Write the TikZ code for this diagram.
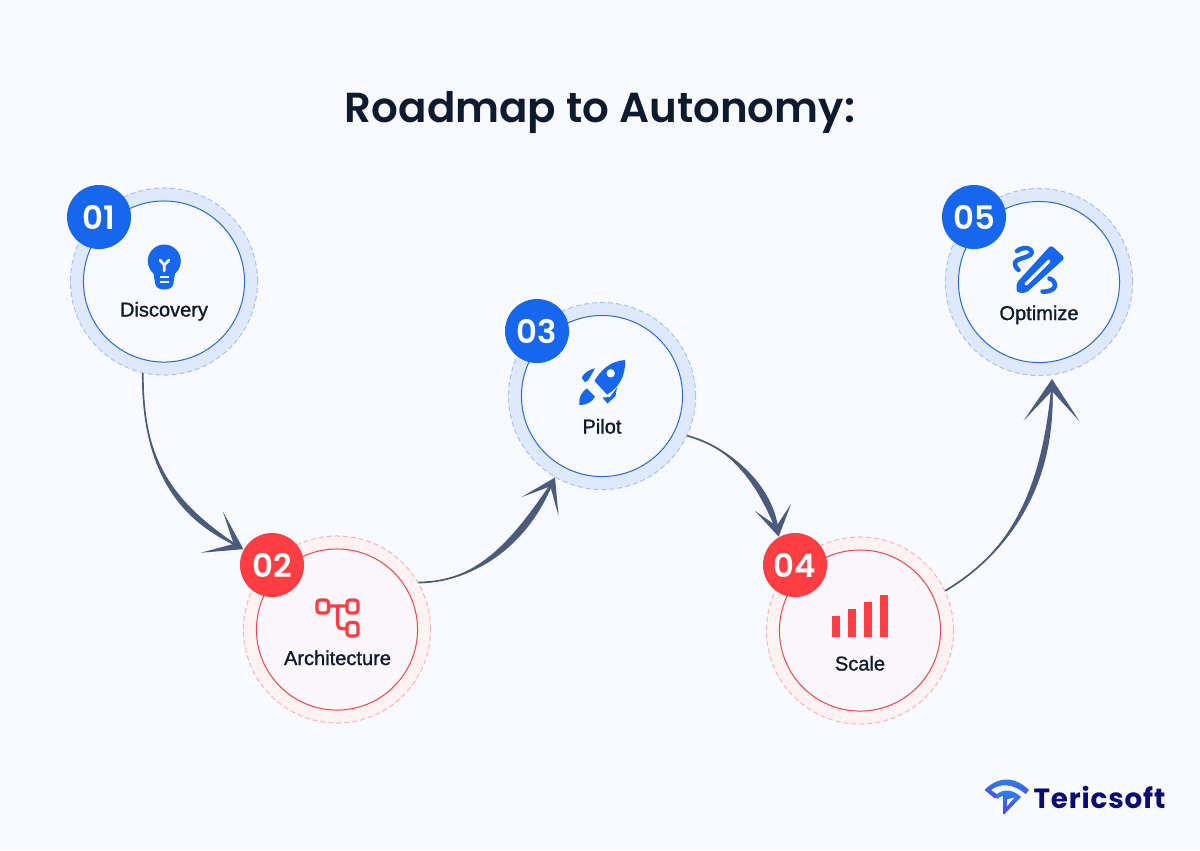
\documentclass[tikz,border=0pt]{standalone}
\usepackage{fontspec}
\usepackage{xcolor}
\usetikzlibrary{arrows.meta}
\setmainfont{Liberation Sans}[FakeBold=1.2]
\newfontfamily\titlefont{Poppins SemiBold}
\newfontfamily\logofont{Poppins}[LetterSpace=3]
\definecolor{pagebg}{HTML}{F8FAFF}
\definecolor{inkdark}{HTML}{0E1A2E}
\definecolor{linkcol}{HTML}{4A5B7C}
\definecolor{blueband}{HTML}{DEE9FD}
\definecolor{bluedash}{HTML}{A8C3EE}
\definecolor{blueline}{HTML}{2A68D6}
\definecolor{bluefill}{HTML}{F8FAFF}
\definecolor{bluemain}{HTML}{1666EE}
\definecolor{redband}{HTML}{FFF2F2}
\definecolor{reddash}{HTML}{F9B4B8}
\definecolor{redline}{HTML}{E8474F}
\definecolor{redfill}{HTML}{FAF8FD}
\definecolor{redmain}{HTML}{FF3E44}
\definecolor{logonavy}{HTML}{0C0A70}
\definecolor{logotop}{HTML}{2288F2}
\definecolor{logolow}{HTML}{5A45DC}
\tikzset{
  ring/.style={circle,draw=#1dash,fill=#1band,line width=0.1mm,dash pattern=on 0.5mm off 0.3mm,
    minimum size=1.87cm,inner sep=0pt},
  core/.style={circle,draw=#1line,fill=#1fill,line width=0.1mm,minimum size=1.61cm,inner sep=0pt},
  badge/.style={circle,fill=#1main,minimum size=0.64cm,inner sep=0pt,text=white,
    font=\titlefont\fontsize{9.2}{10}\selectfont},
  steplabel/.style={anchor=base,text=inkdark,font=\fontsize{5.7}{6}\selectfont},
  linkline/.style n args={3}{draw=linkcol,line width=0.17mm,
    -{Stealth[length=#1,width=#2,inset=#3,line width=0pt,fill=linkcol]}},
  linkbody/.style={fill=linkcol},
  iconline/.style={line width=#1,line cap=round,line join=round},
  logoshade/.style={top color=logotop,bottom color=logolow}
}
\begin{document}
\begin{tikzpicture}[x=0.01cm,y=-0.01cm]
  \useasboundingbox (0,0) rectangle (1200,850);
  \fill[pagebg] (0,0) rectangle (1200,850);
  \node[anchor=base,inkdark,font=\titlefont\fontsize{11.93}{14}\selectfont] (title) at (600,122) {Roadmap to Autonomy:};

  % steps
  \node[ring=blue] (r1) at (164,281.5) {};
  \node[core=blue] (c1) at (164,281.5) {};
  \node[badge=blue] (b1) at (99,217) {01};
  \node[steplabel] (l1) at (164,316.5) {Discovery};
  \node[ring=red] (r2) at (337,629.5) {};
  \node[core=red] (c2) at (337,629.5) {};
  \node[badge=red] (b2) at (272,565) {02};
  \node[steplabel] (l2) at (337.5,665) {Architecture};
  \node[ring=blue] (r3) at (602,396) {};
  \node[core=blue] (c3) at (602,396) {};
  \node[badge=blue] (b3) at (537,331) {03};
  \node[steplabel] (l3) at (602,433.5) {Pilot};
  \node[ring=red] (r4) at (860,630.5) {};
  \node[core=red] (c4) at (860,630.5) {};
  \node[badge=red] (b4) at (795,565) {04};
  \node[steplabel] (l4) at (860,670.5) {Scale};
  \node[ring=blue] (r5) at (1039,282) {};
  \node[core=blue] (c5) at (1039,282) {};
  \node[badge=blue] (b5) at (974,217) {05};
  \node[steplabel] (l5) at (1039,320) {Optimize};
  \coordinate (t5) at (1052,379);

  % connectors
  \draw[linkline={3.6mm}{4.7mm}{2.5mm}] (r1.257) .. controls (142,470) and (180,515) .. (b2.151);
  \fill[linkbody] (r1.257) .. controls (142,470) and (177,521) .. (b2.151) .. controls (183,509) and (142,470) .. cycle;
  \draw[linkline={3.3mm}{4.2mm}{2.3mm}] (r2.30) .. controls (485,582) and (528,530) .. (r3.240);
  \fill[linkbody] (r2.30) .. controls (485,582) and (535,534) .. (r3.240) .. controls (521,526) and (485,582) .. cycle;
  \draw[linkline={3mm}{3.7mm}{1.9mm}] (r3.-25) .. controls (740,450) and (771,497) .. (b4.120);
  \fill[linkbody] (r3.-25) .. controls (740,450) and (779,496) .. (b4.120) .. controls (763,498) and (740,450) .. cycle;
  \draw[linkline={4.2mm}{5.6mm}{3mm}] (r4.25) .. controls (1022,545) and (1051,470) .. (t5);
  \fill[linkbody] (r4.25) .. controls (1022,545) and (1058,470) .. (t5) .. controls (1044,470) and (1022,545) .. cycle;

  % bulb
  \fill[bluemain] (164.3,261) circle (16.5);
  \fill[bluemain] (153,270) -- (155,283) .. controls (155.5,287.5) and (159,289.5) .. (164.3,289.5)
    .. controls (169.5,289.5) and (173,287.5) .. (173.5,283) -- (175.5,270) -- cycle;
  \draw[white,iconline=0.27mm] (160,260) -- (164.3,265) -- (169,260) (164.3,265) -- (164.3,271);
  \draw[white,line width=0.17mm] (160,277.3) -- (169,277.3) (160,281.7) -- (169,281.7);

  % tree
  \draw[redmain,iconline=0.33mm,rounded corners=0.03cm] (317,600) rectangle (328.5,613);
  \draw[redmain,iconline=0.33mm,rounded corners=0.03cm] (347,600) rectangle (358,613);
  \draw[redmain,iconline=0.33mm,rounded corners=0.03cm] (347,622.5) rectangle (358,636);
  \draw[redmain,iconline=0.33mm] (328.5,606) -- (347,606) (337.5,606) -- (337.5,624) -- (339,628) -- (347,629);

  % rocket
  \fill[bluemain] (625,360) .. controls (610,361) and (600,371) .. (594.5,381) -- (607,394.5)
    .. controls (619,388) and (626,375) .. (625,360) -- cycle;
  \fill[white] (610.7,373.3) circle (4.2);
  \fill[bluemain] (581.7,377.7) .. controls (584,373) and (589,369.5) .. (595,368.3) -- (588.3,380) -- (585,382.3) -- cycle;
  \fill[bluemain] (617,387.5) -- (615.5,396) -- (607.5,403.5) -- (602.5,397.5) -- (610,397) -- cycle;
  \fill[bluemain] (579.3,405) .. controls (578.5,398) and (581,393) .. (586.7,388.3) -- (595,396.7)
    .. controls (592,402) and (587,405) .. (579.3,405) -- cycle;

  % bars
  \fill[redmain] (832,616) rectangle (840,637.3);
  \fill[redmain] (848,609.3) rectangle (856,637.3);
  \fill[redmain] (864,602.3) rectangle (872,637.3);
  \fill[redmain] (880,594.7) rectangle (888,637.3);

  % pencil
  \fill[bluemain,rounded corners=0.03cm] (1051,245) -- (1065,258) -- (1026,293) -- (1016.5,292.5) -- (1016.5,283) -- cycle;
  \draw[white,iconline=0.32mm] (1026,284) -- (1049,261);
  \draw[bluemain,iconline=0.45mm] (1018.5,270) .. controls (1012,264) and (1015,260) .. (1021,258.5)
    .. controls (1029,256.5) and (1034,254) .. (1031,250) .. controls (1028,246.5) and (1020,248) .. (1017,251);
  \draw[bluemain,iconline=0.45mm] (1042.5,291.5) .. controls (1050,292) and (1056,289) .. (1055,284)
    .. controls (1054.5,281) and (1052,279) .. (1049.5,278.5);

  % logo
  \shade[logoshade] (984.5,790) .. controls (998,776) and (1015,776) .. (1029,790) -- (1025.5,794)
    .. controls (1013,783) and (1000,783) .. (991,790) -- (998,795) -- (995,798.5) -- cycle;
  \shade[logoshade] (995,796) .. controls (1001,789) and (1012,788) .. (1021,797) -- (1004.5,814) -- (1003,814) -- (1003,796)
    .. controls (1000,796) and (998,798) .. (997.5,799) -- cycle;
  \fill[pagebg] (1007,799.5) -- (1014.5,797.5) -- (1007,806) -- cycle;
  \node[anchor=west,inner sep=0pt,logonavy,font=\logofont\bfseries\fontsize{7.9}{10}\selectfont] (logo) at (1033,797) {Tericsoft};
\end{tikzpicture}
\end{document}
